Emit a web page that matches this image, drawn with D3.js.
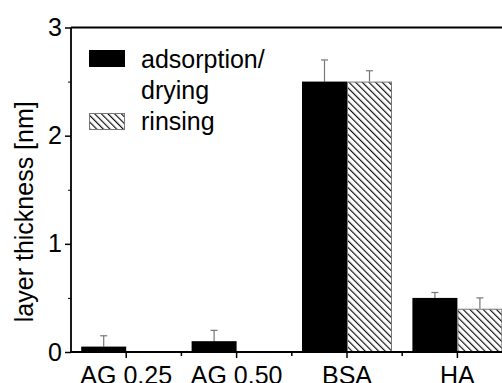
<!DOCTYPE html>
<html><head><meta charset="utf-8">
<script src="https://cdn.jsdelivr.net/npm/d3@7"></script>
<style>
html,body{margin:0;padding:0;background:#fff;}
svg{display:block;font-family:"Liberation Sans",Arial,sans-serif;}
</style></head>
<body>
<svg id="c" width="502" height="383"></svg>
<script>
const categories = ["AG 0.25", "AG 0.50", "BSA", "HA"];
const adsorption = [0.05, 0.10, 2.50, 0.50];
const adsorptionErr = [0.10, 0.10, 0.20, 0.05];
const rinsing = [null, null, 2.50, 0.40];
const rinsingErr = [null, null, 0.10, 0.10];
const yTicks = [0, 1, 2, 3];
const yMinorTicks = [0.5, 1.5, 2.5];
const legendLabels = [["adsorption/", "drying"], ["rinsing"]];

(function () {
const svg = d3.select("#c");
const mLeft = 71, mTop = 27.5, mBottom = 352, mRight = 512.6;
const FS = 25;

const defs = svg.append("defs");
const pat = defs.append("pattern").attr("id", "hatch")
  .attr("patternUnits", "userSpaceOnUse").attr("width", 4.7).attr("height", 10)
  .attr("patternTransform", "rotate(-45)");
pat.append("rect").attr("width", 4.7).attr("height", 10).attr("fill", "#fff");
pat.append("line").attr("x1", 0.6).attr("x2", 0.6).attr("y1", 0).attr("y2", 10)
  .attr("stroke", "#000").attr("stroke-width", 1.1);

const x = d3.scaleBand().domain(categories).range([mLeft, mRight]).padding(0);
const y = d3.scaleLinear().domain([0, 3]).range([mBottom, mTop]);
const bw = 45;

const data = categories.map((c, i) => ({c, a: adsorption[i], ae: adsorptionErr[i], r: rinsing[i], re: rinsingErr[i]}));
const cx = c => x(c) + x.bandwidth() / 2;

const errG = svg.append("g").attr("stroke", "#777").attr("stroke-width", 1.2);
data.forEach(d => {
  if (d.a != null) {
    const ex = cx(d.c) - bw / 2;
    errG.append("line").attr("x1", ex).attr("x2", ex).attr("y1", y(d.a)).attr("y2", y(d.a + d.ae));
    errG.append("line").attr("x1", ex - 3.5).attr("x2", ex + 3.5).attr("y1", y(d.a + d.ae)).attr("y2", y(d.a + d.ae));
  }
  if (d.r != null) {
    const ex = cx(d.c) + bw / 2;
    errG.append("line").attr("x1", ex).attr("x2", ex).attr("y1", y(d.r)).attr("y2", y(d.r + d.re));
    errG.append("line").attr("x1", ex - 3.5).attr("x2", ex + 3.5).attr("y1", y(d.r + d.re)).attr("y2", y(d.r + d.re));
  }
});

svg.append("g").selectAll("rect").data(data.filter(d => d.a != null)).join("rect")
  .attr("x", d => cx(d.c) - bw).attr("width", bw)
  .attr("y", d => y(d.a)).attr("height", d => y(0) - y(d.a))
  .attr("fill", "#000");
svg.append("g").selectAll("rect").data(data.filter(d => d.r != null)).join("rect")
  .attr("x", d => cx(d.c) + 0.5).attr("width", bw - 1)
  .attr("y", d => y(d.r) + 0.5).attr("height", d => y(0) - y(d.r) - 0.5)
  .attr("fill", "url(#hatch)").attr("stroke", "#777").attr("stroke-width", 1);

const yAxis = svg.append("g").attr("transform", `translate(${mLeft},0)`)
  .call(d3.axisLeft(y).tickValues(yTicks).tickFormat(d3.format("d")).tickSize(6).tickPadding(3));
svg.append("g").attr("transform", `translate(${mLeft},0)`)
  .call(d3.axisLeft(y).tickValues(yMinorTicks).tickFormat("").tickSize(3))
  .call(g => g.select(".domain").remove());
yAxis.selectAll("text").attr("font-size", FS).attr("font-family", "Liberation Sans, Arial, sans-serif").attr("fill", "#000");
yAxis.selectAll("line").attr("stroke-width", 1.5);
yAxis.select(".domain").remove();

const xAxis = svg.append("g").attr("transform", `translate(0,${mBottom})`)
  .call(d3.axisBottom(x).tickSize(6).tickPadding(8));
xAxis.select(".domain").remove();
xAxis.selectAll("line").attr("stroke-width", 1.5);
xAxis.selectAll("text").attr("font-size", FS).attr("font-family", "Liberation Sans, Arial, sans-serif").attr("fill", "#000")
  .attr("dy", null).attr("y", 32);
const bounds = categories.slice(1).map(c => x(c));
svg.append("g").selectAll("line").data(bounds).join("line")
  .attr("x1", d => d).attr("x2", d => d).attr("y1", mBottom).attr("y2", mBottom + 4)
  .attr("stroke", "#000").attr("stroke-width", 1.5);

svg.append("line").attr("x1", mLeft).attr("x2", mLeft).attr("y1", mTop).attr("y2", mBottom)
  .attr("stroke", "#000").attr("stroke-width", 1.8);
svg.append("line").attr("x1", mLeft).attr("x2", mRight).attr("y1", mBottom).attr("y2", mBottom)
  .attr("stroke", "#000").attr("stroke-width", 1.8);
svg.append("line").attr("x1", mLeft).attr("x2", mRight).attr("y1", mTop).attr("y2", mTop)
  .attr("stroke", "#000").attr("stroke-width", 1.8);

svg.append("text").attr("transform", `translate(33,${(y(0) + y(3)) / 2 + 22}) rotate(-90)`)
  .attr("text-anchor", "middle").attr("font-size", FS).attr("fill", "#000")
  .text("layer thickness [nm]");

const lg = svg.append("g");
lg.append("rect").attr("x", 89).attr("y", 50).attr("width", 36).attr("height", 17).attr("fill", "#000");
lg.append("rect").attr("x", 89.5).attr("y", 113.5).attr("width", 35).attr("height", 16)
  .attr("fill", "url(#hatch)").attr("stroke", "#777").attr("stroke-width", 1);
const t1 = lg.append("text").attr("x", 141).attr("y", 68).attr("font-size", FS).attr("fill", "#000");
legendLabels[0].forEach((s, i) => t1.append("tspan").attr("x", 141).attr("dy", i ? 31 : 0).text(s));
lg.append("text").attr("x", 141).attr("y", 130).attr("font-size", FS).attr("fill", "#000").text(legendLabels[1][0]);
})();
</script>
</body></html>
